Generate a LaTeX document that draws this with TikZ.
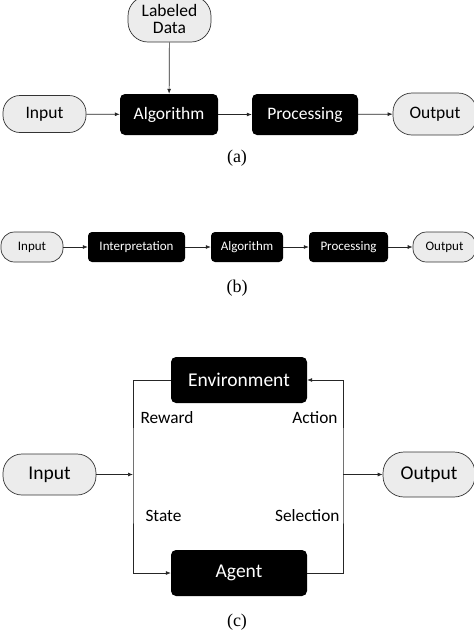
\documentclass[tikz,border=0pt]{standalone}
\usepackage{fontspec}
\setmainfont{Carlito}
\newfontfamily\capfont{Liberation Serif}
\usetikzlibrary{arrows.meta}

\begin{document}
\begin{tikzpicture}[x=1pt,y=-1pt,
		term/.style={draw=black!80,fill=gray!15,line width=0.7pt,rounded corners=17pt,inner sep=0pt},
		blk/.style={fill=black,text=white,rounded corners=5pt,inner sep=0pt},
		flow/.style={draw=black!85,line width=0.7pt,-{Latex[length=5pt,width=4pt]}},
		captext/.style={font=\capfont\fontsize{18}{20}\selectfont}]
	\useasboundingbox (0,0) rectangle (474,633);
	% (a)
	\begin{scope}[font=\fontsize{17.5}{19}\selectfont]
		\node[term,rounded corners=20pt,minimum width=83pt,minimum height=46pt,align=center] (lab) at (169.5,19) {Labeled\\[-2pt]Data};
		\node[term,minimum width=83pt,minimum height=37pt] (inA) at (44.5,114) {Input};
		\node[blk,minimum width=98pt,minimum height=41pt] (algA) at (169,114.5) {Algorithm};
		\node[blk,minimum width=106pt,minimum height=41pt] (procA) at (305,114.5) {Processing};
		\node[term,rounded corners=19pt,minimum width=84pt,minimum height=42pt] (outA) at (435,114) {Output};
	\end{scope}
	\draw[flow] (lab) -- (algA);
	\draw[flow] (inA) -- (algA);
	\draw[flow] (algA) -- (procA);
	\draw[flow] (procA) -- (outA);
	\node[captext] (capA) at (237,158) {(a)};
	% (b)
	\begin{scope}[font=\fontsize{13}{15}\selectfont]
		\node[term,rounded corners=13.5pt,minimum width=62pt,minimum height=30pt] (inB) at (32,247) {Input};
		\node[blk,rounded corners=4pt,minimum width=97pt,minimum height=30pt] (intB) at (136.5,247) {Interpretation};
		\node[blk,rounded corners=4pt,minimum width=72pt,minimum height=30pt] (algB) at (247,247) {Algorithm};
		\node[blk,rounded corners=4pt,minimum width=79pt,minimum height=30pt] (procB) at (348.5,247) {Processing};
		\node[term,rounded corners=13.5pt,minimum width=63pt,minimum height=30pt] (outB) at (444.5,247) {Output};
	\end{scope}
	\foreach \a/\b in {inB/intB,intB/algB,algB/procB,procB/outB} {
			\draw[flow] (\a) -- (\b);
		}
	\node[captext] (capB) at (237,288) {(b)};
	% (c)
	\begin{scope}[font=\fontsize{19.5}{21}\selectfont]
		\node[blk,minimum width=136pt,minimum height=46pt] (env) at (239,380) {Environment};
		\node[blk,minimum width=136pt,minimum height=46pt] (agent) at (239,573) {Agent};
		\node[term,rounded corners=19pt,minimum width=93pt,minimum height=41pt] (inC) at (49.5,474.5) {Input};
		\node[term,rounded corners=21pt,minimum width=92pt,minimum height=45pt] (outC) at (429,474.5) {Output};
	\end{scope}
	\coordinate (lj) at (133,474.5);
	\coordinate (rj) at (343,474.5);
	\draw[flow] (env.west) -| (lj) |- (agent.west);
	\draw[flow] (agent.east) -| (rj) |- (env.east);
	\draw[flow] (inC) -- (lj);
	\draw[flow] (rj) -- (outC);
	\begin{scope}[font=\fontsize{17.3}{19}\selectfont]
		\node[anchor=west] (rew) at (137,418) {Reward};
		\node[anchor=east] (act) at (341,418) {Action};
		\node[anchor=west] (st) at (142,516) {State};
		\node[anchor=east] (sel) at (343,516) {Selection};
	\end{scope}
	\node[captext] (capC) at (237,622) {(c)};
\end{tikzpicture}
\end{document}
